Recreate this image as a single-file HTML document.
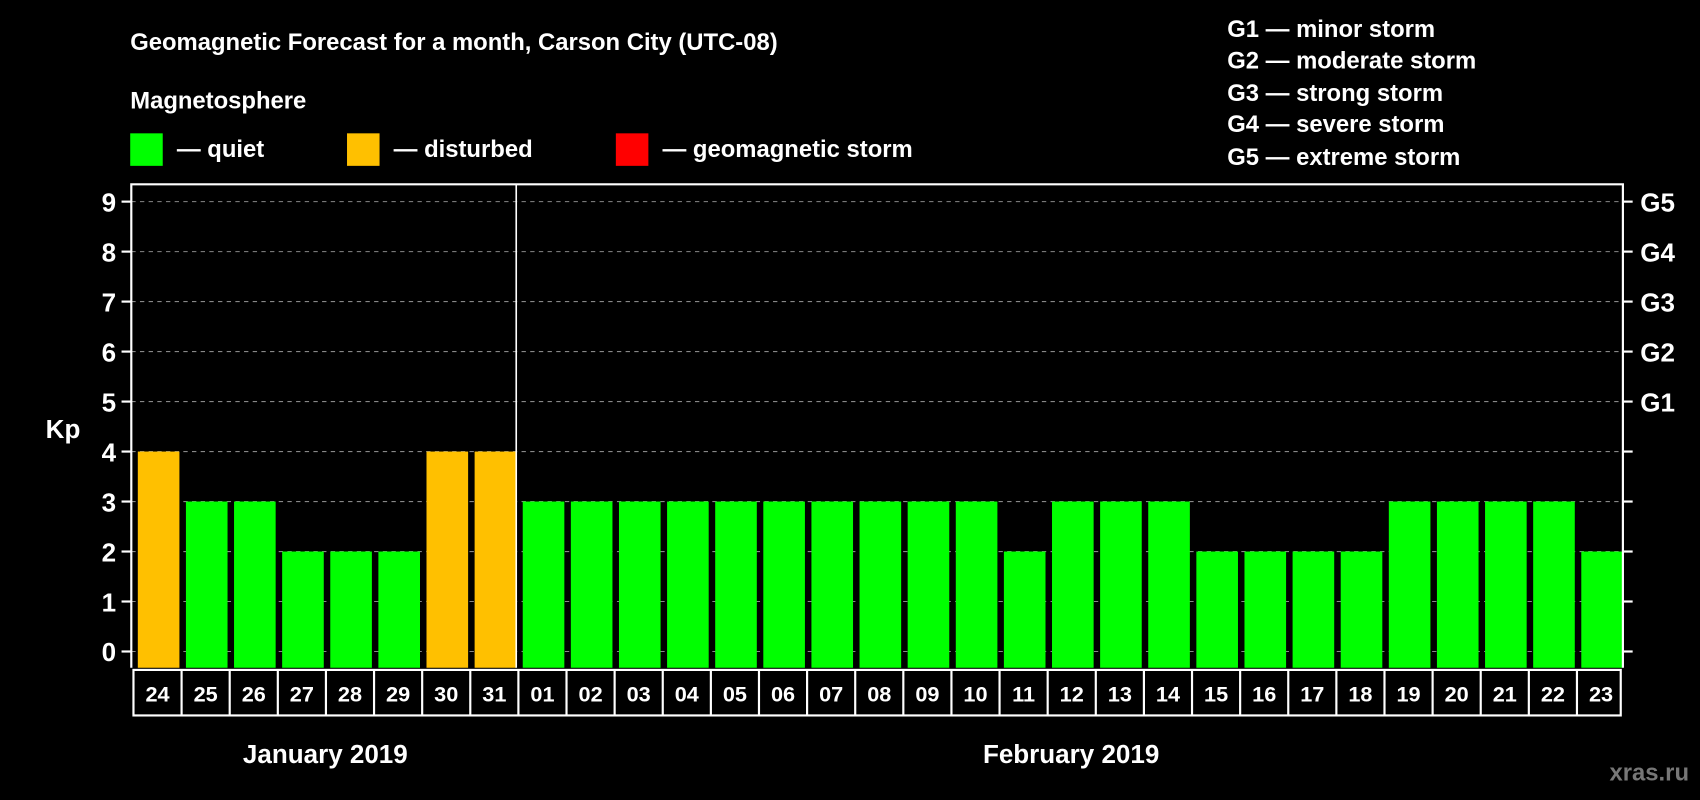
<!DOCTYPE html>
<html><head><meta charset="utf-8"><style>
html,body{margin:0;padding:0;background:#000;}
svg{display:block;font-family:"Liberation Sans",Arial,sans-serif;font-weight:bold;}
</style></head><body>
<svg id="chart" width="1700" height="800" viewBox="0 0 1568 738" xmlns="http://www.w3.org/2000/svg">
<rect x="0" y="0" width="1568" height="738" fill="#000"/>
<text x="120" y="46" fill="#fff" font-size="22">Geomagnetic Forecast for a month, Carson City (UTC-08)</text>
<text x="120" y="100" fill="#fff" font-size="22">Magnetosphere</text>
<g><rect x="120" y="123" width="30" height="30" fill="#00ff00"/><text x="163" y="145" fill="#fff" font-size="22">— quiet</text></g>
<g><rect x="320" y="123" width="30" height="30" fill="#ffc000"/><text x="363" y="145" fill="#fff" font-size="22">— disturbed</text></g>
<g><rect x="568" y="123" width="30" height="30" fill="#ff0000"/><text x="611" y="145" fill="#fff" font-size="22">— geomagnetic storm</text></g>
<g fill="#fff" font-size="22">
<text x="1132" y="34">G1 — minor storm</text>
<text x="1132" y="63">G2 — moderate storm</text>
<text x="1132" y="93">G3 — strong storm</text>
<text x="1132" y="122">G4 — severe storm</text>
<text x="1132" y="152">G5 — extreme storm</text>
</g>
<text x="58" y="404" fill="#fff" font-size="24" text-anchor="middle">Kp</text>
<g id="plot"></g>
<text x="300" y="704" fill="#fff" font-size="24" text-anchor="middle">January 2019</text>
<text x="988" y="704" fill="#fff" font-size="24" text-anchor="middle">February 2019</text>
<text x="1558" y="720" fill="#777" font-size="22" text-anchor="end">xras.ru</text>
</svg>
<script>
const days = ["24","25","26","27","28","29","30","31","01","02","03","04","05","06","07","08","09","10","11","12","13","14","15","16","17","18","19","20","21","22","23"];
const kp = [4,3,3,2,2,2,4,4,3,3,3,3,3,3,3,3,3,3,2,3,3,3,2,2,2,2,3,3,3,3,2];
const yTicks = [0,1,2,3,4,5,6,7,8,9];
const gLabels = ["","","","","","G1","G2","G3","G4","G5"];

const NS="http://www.w3.org/2000/svg";
const g=document.getElementById('plot');
const L=121,R=1497,T=170,B=616,y0=601,unit=(601-186)/9;
const pitch=(R-L)/days.length;
const y=v=>y0-v*unit;
const x=i=>L+i*pitch;
function mk(t,a,parent){const e=document.createElementNS(NS,t);for(const k in a)e.setAttribute(k,a[k]);(parent||g).appendChild(e);return e;}
const color=v=>v>=5?"#ff0000":(v>=4?"#ffc000":"#00ff00");

yTicks.forEach((v,i)=>{
  const gl=mk('line',{x1:L,x2:R,y1:y(v),y2:y(v),stroke:'#888','stroke-width':1,'stroke-dasharray':'4,4'});
  
  
  const tk=mk('line',{x1:L-9,x2:L,y1:y(v),y2:y(v),stroke:'#fff','stroke-width':2});
  
  
  const tr=mk('line',{x1:R,x2:R+9,y1:y(v),y2:y(v),stroke:'#fff','stroke-width':2});
  
  
  const tl=mk('text',{x:L-14,y:y(v)+9,fill:'#fff','font-size':24,'text-anchor':'end'});
  tl.textContent=v;
  
  
  if(gLabels[i]){
    const gt=mk('text',{x:R+16,y:y(v)+9,fill:'#fff','font-size':24});
    gt.textContent=gLabels[i];
    
    
  }
});
kp.forEach((v,i)=>{
  const b=mk('rect',{x:x(i)+6,y:y(v),width:pitch-6,height:B-y(v),fill:color(v)});
  
  
});
// frame
const fr=mk('path',{d:`M${L} ${B} V${T} H${R} V${B}`,fill:'none',stroke:'#fff','stroke-width':2});


const sep=mk('line',{x1:x(8),x2:x(8),y1:T,y2:B,stroke:'#fff','stroke-width':1.5});


// date boxes
const bx=mk('rect',{x:L+2,y:B+2,width:R-L-4,height:42,fill:'none',stroke:'#fff','stroke-width':2});


days.forEach((d,i)=>{
  if(i>0){
    const dl=mk('line',{x1:x(i)+2,x2:x(i)+2,y1:B+2,y2:B+44,stroke:'#fff','stroke-width':2});
    
    
  }
  const t=mk('text',{x:x(i)+pitch/2+2,y:B+31,fill:'#fff','font-size':20,'text-anchor':'middle'});
  t.textContent=d;
  
  
});
</script>
</body></html>
